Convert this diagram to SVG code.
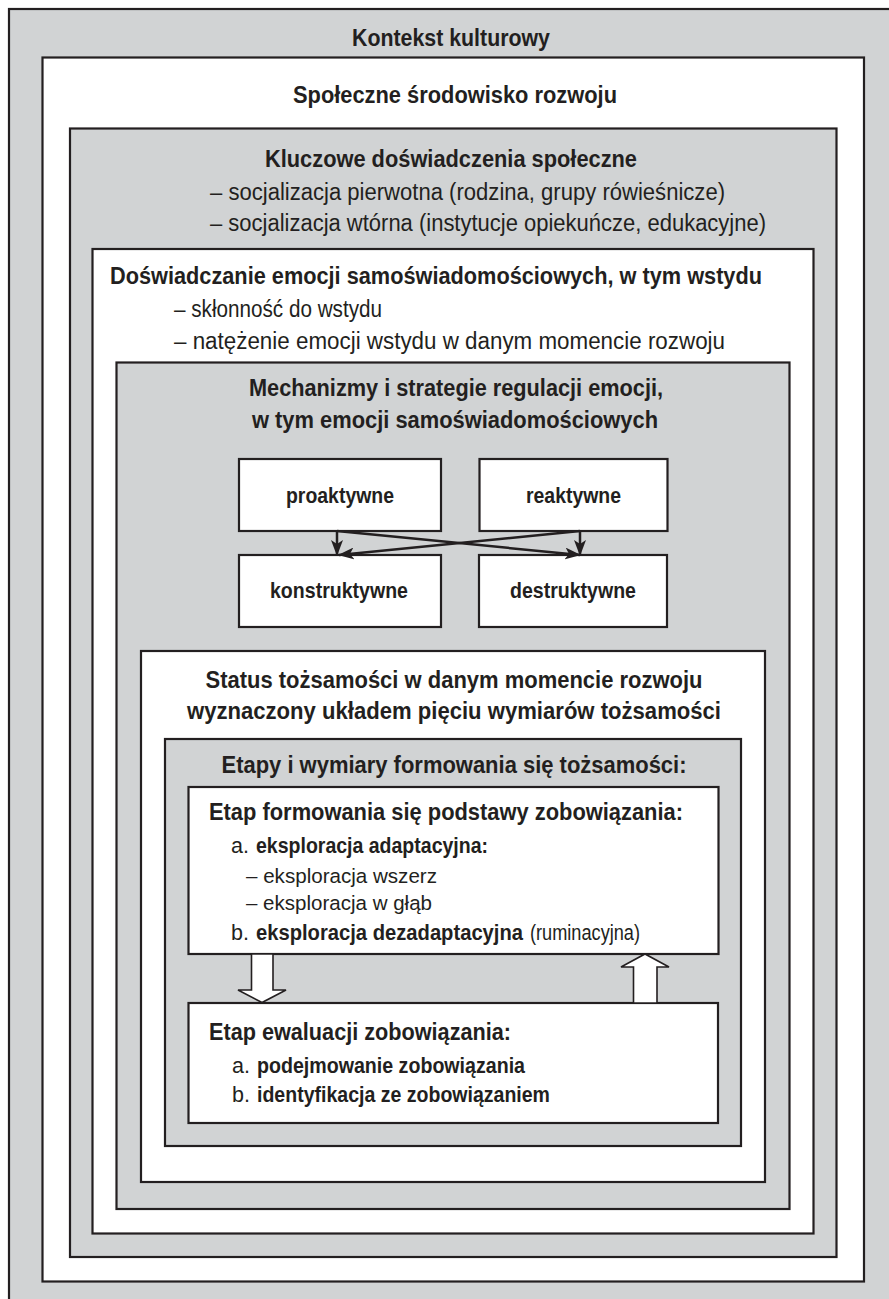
<svg xmlns="http://www.w3.org/2000/svg" width="889" height="1299" viewBox="0 0 889 1299">
<style>
.g{fill:#d1d3d4;stroke:#231f20;stroke-width:2.2}
.w{fill:#ffffff;stroke:#231f20;stroke-width:2.2}
text{font-family:"Liberation Sans",Arial,Helvetica,sans-serif;fill:#231f20;font-size:23px}
.b{font-weight:bold}
.c{text-anchor:middle}
.m{font-size:21.5px}
.s{font-size:20.5px}
.con{stroke:#231f20;stroke-width:2.5;fill:none;marker-end:url(#ah)}
.blk{fill:#ffffff;stroke:#231f20;stroke-width:1.6;stroke-linejoin:miter}
</style>
<defs>
<marker id="ah" markerUnits="userSpaceOnUse" markerWidth="16" markerHeight="12" refX="15" refY="6" orient="auto">
<path d="M0,0 L16,6 L0,12 L4,6 z" fill="#231f20"/>
</marker>
</defs>
<rect width="889" height="1299" fill="#ffffff"/>
<g id="kontekst">
<rect class="g" x="9" y="9" width="900" height="1300"/>
<text class="b c" x="451" y="46" textLength="198" lengthAdjust="spacingAndGlyphs">Kontekst kulturowy</text>
</g>
<g id="srodowisko">
<rect class="w" x="42.5" y="57.5" width="821.5" height="1224"/>
<text class="b c" x="455" y="103" textLength="324" lengthAdjust="spacingAndGlyphs">Społeczne środowisko rozwoju</text>
</g>
<g id="doswiadczenia">
<rect class="g" x="70" y="128.5" width="766.5" height="1128.5"/>
<text class="b" x="265" y="167" textLength="372" lengthAdjust="spacingAndGlyphs">Kluczowe doświadczenia społeczne</text>
<text x="210" y="200" textLength="515" lengthAdjust="spacingAndGlyphs">– socjalizacja pierwotna (rodzina, grupy rówieśnicze)</text>
<text x="210" y="231" textLength="556" lengthAdjust="spacingAndGlyphs">– socjalizacja wtórna (instytucje opiekuńcze, edukacyjne)</text>
</g>
<g id="emocje">
<rect class="w" x="92.5" y="249" width="721" height="984.5"/>
<text class="b" x="110" y="284" textLength="652" lengthAdjust="spacingAndGlyphs">Doświadczanie emocji samoświadomościowych, w tym wstydu</text>
<text x="174" y="317" textLength="208" lengthAdjust="spacingAndGlyphs">– skłonność do wstydu</text>
<text x="174" y="349" textLength="551" lengthAdjust="spacingAndGlyphs">– natężenie emocji wstydu w danym momencie rozwoju</text>
</g>
<g id="mechanizmy">
<rect class="g" x="116.5" y="362.5" width="673" height="846.5"/>
<text class="b c" x="456" y="396" textLength="414" lengthAdjust="spacingAndGlyphs">Mechanizmy i strategie regulacji emocji,</text>
<text class="b c" x="455" y="428" textLength="406" lengthAdjust="spacingAndGlyphs">w tym emocji samoświadomościowych</text>
</g>
<g id="proaktywne">
<rect class="w" x="239" y="459" width="202" height="72"/>
<text class="b c m" x="340" y="503" textLength="108" lengthAdjust="spacingAndGlyphs">proaktywne</text>
</g>
<g id="reaktywne">
<rect class="w" x="479.5" y="459" width="188" height="72"/>
<text class="b c m" x="573.5" y="503" textLength="95" lengthAdjust="spacingAndGlyphs">reaktywne</text>
</g>
<g id="konstruktywne">
<rect class="w" x="239" y="555" width="202" height="72"/>
<text class="b c m" x="339" y="598" textLength="138" lengthAdjust="spacingAndGlyphs">konstruktywne</text>
</g>
<g id="destruktywne">
<rect class="w" x="479" y="555" width="188" height="72"/>
<text class="b c m" x="573" y="598" textLength="126" lengthAdjust="spacingAndGlyphs">destruktywne</text>
</g>
<g id="status">
<rect class="w" x="141" y="651" width="624" height="531"/>
<text class="b c" x="454" y="688" textLength="497" lengthAdjust="spacingAndGlyphs">Status tożsamości w danym momencie rozwoju</text>
<text class="b c" x="454" y="719" textLength="534" lengthAdjust="spacingAndGlyphs">wyznaczony układem pięciu wymiarów tożsamości</text>
</g>
<g id="etapy">
<rect class="g" x="165" y="739" width="576" height="407"/>
<text class="b c" x="454" y="773" textLength="465" lengthAdjust="spacingAndGlyphs">Etapy i wymiary formowania się tożsamości:</text>
</g>
<g id="formowanie">
<rect class="w" x="188.5" y="787" width="530" height="167"/>
<text class="b" x="209" y="820" textLength="474" lengthAdjust="spacingAndGlyphs">Etap formowania się podstawy zobowiązania:</text>
<text class="m" x="231" y="853">a.</text>
<text class="b m" x="256" y="853" textLength="232" lengthAdjust="spacingAndGlyphs">eksploracja adaptacyjna:</text>
<text class="s" x="246" y="883" textLength="191" lengthAdjust="spacingAndGlyphs">– eksploracja wszerz</text>
<text class="s" x="246" y="910" textLength="186" lengthAdjust="spacingAndGlyphs">– eksploracja w głąb</text>
<text class="m" x="231" y="940">b.</text>
<text class="b m" x="256" y="940" textLength="267" lengthAdjust="spacingAndGlyphs">eksploracja dezadaptacyjna</text>
<text class="m" x="530" y="940" textLength="110" lengthAdjust="spacingAndGlyphs">(ruminacyjna)</text>
</g>
<g id="ewaluacja">
<rect class="w" x="188.5" y="1003" width="529.5" height="120"/>
<text class="b" x="209" y="1040" textLength="302" lengthAdjust="spacingAndGlyphs">Etap ewaluacji zobowiązania:</text>
<text class="m" x="232" y="1073">a.</text>
<text class="b m" x="257" y="1073" textLength="268" lengthAdjust="spacingAndGlyphs">podejmowanie zobowiązania</text>
<text class="m" x="232" y="1102">b.</text>
<text class="b m" x="257" y="1102" textLength="293" lengthAdjust="spacingAndGlyphs">identyfikacja ze zobowiązaniem</text>
</g>
<g id="connectors">
<line class="con" x1="337" y1="531" x2="337" y2="555"/>
<line class="con" x1="337" y1="531" x2="580" y2="555"/>
<line class="con" x1="580" y1="531" x2="580" y2="555"/>
<line class="con" x1="580" y1="531" x2="339" y2="555"/>
<polygon class="blk" points="251.5,954 273,954 273,990 286,990 262,1002.5 238,990 251.5,990"/>
<polygon class="blk" points="633.5,1003 657,1003 657,967 669,967 645,954 621,967 633.5,967"/>
</g>
</svg>
